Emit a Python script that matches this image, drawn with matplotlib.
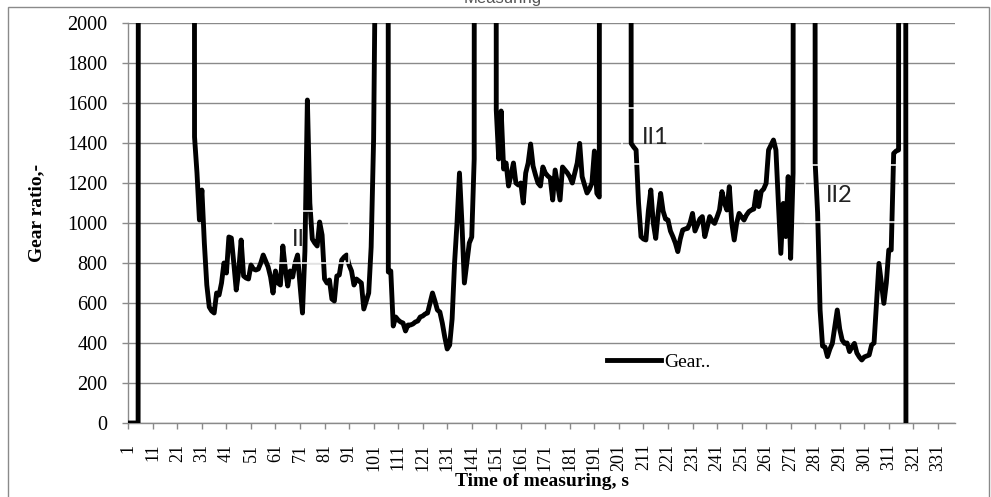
import numpy as np
import matplotlib.pyplot as plt
from matplotlib.patches import Rectangle

plt.rcParams['font.family'] = ['Liberation Serif', 'DejaVu Serif']

# gear ratio per second of measuring (values far above 2000 run off the chart)
gear_ratio = [
    0, 0, 0, 0, 0,
    30000, 30000, 30000, 30000, 30000, 30000, 30000, 30000, 30000, 30000, 30000,
    30000, 30000, 30000, 30000, 30000, 30000, 30000, 30000, 30000, 30000, 30000,
    1430, 1250, 1015, 1165, 900, 690, 580, 560, 550, 650, 640, 700, 800, 750,
    930, 925, 800, 665, 760, 915, 735, 725, 720,
    790, 770, 765, 770, 800, 840, 810, 780, 730, 650,
    760, 700, 690, 885, 770, 685, 760, 730, 800, 840,
    690, 550, 860, 1615, 1100, 920, 900, 885, 1005, 940,
    720, 700, 715, 620, 610, 735, 740, 815, 830, 840,
    790, 760, 690, 720, 710, 700, 570, 610, 650, 880,
    1420, 2700,
    30000, 30000, 30000, 30000,
    755, 760, 485, 530, 515, 505, 500, 460, 490, 490,
    495, 505, 510, 530, 535, 545, 550, 600, 650, 610,
    565, 555, 500, 430, 370, 390, 520, 800, 1000, 1250,
    1000, 700, 800, 900, 930, 1320,
    30000, 30000, 30000, 30000, 30000, 30000, 30000, 30000,
    1565, 1320, 1560, 1270, 1300, 1185, 1240, 1300, 1200, 1190,
    1200, 1100, 1250, 1300, 1395, 1285, 1240, 1200, 1185, 1280,
    1250, 1235, 1225, 1115, 1265, 1190, 1115, 1280, 1265, 1250,
    1230, 1200, 1250, 1300, 1398, 1232, 1190, 1150, 1170, 1200,
    1360, 1148, 1130,
    30000, 30000, 30000, 30000, 30000, 30000, 30000, 30000, 30000, 30000, 30000, 30000,
    1398, 1380, 1365, 1100, 932, 920, 915, 1060, 1165, 1000,
    923, 1050, 1148, 1060, 1020, 1015, 960, 932, 900, 857,
    920, 965, 970, 973, 1000, 1048, 960, 990, 1020, 1032,
    932, 980, 1032, 1010, 998, 1030, 1065, 1157, 1100, 1065,
    1182, 1000, 915, 1000, 1048, 1030, 1015, 1040, 1057, 1065,
    1070, 1157, 1082, 1157, 1170, 1198, 1365, 1390, 1415, 1365,
    1100, 848, 1098, 932, 1232, 823, 1250,
    30000, 30000, 30000, 30000, 30000, 30000, 30000, 30000,
    1300, 1050, 565, 385, 380, 332, 370, 398, 480, 565,
    470, 415, 398, 400, 357, 380, 398, 350, 330, 315,
    330, 335, 340, 390, 400, 598, 798, 700, 598, 700,
    865, 865, 1348, 1360, 1365,
    30000, 30000,
    0,
    np.nan, np.nan, np.nan, np.nan, np.nan, np.nan, np.nan, np.nan, np.nan, np.nan,
    np.nan, np.nan, np.nan, np.nan, np.nan, np.nan, np.nan, np.nan, np.nan, np.nan,
]
seconds = np.arange(1, len(gear_ratio) + 1)

x_ticks = list(range(1, 332, 10))
y_ticks = list(range(0, 2001, 200))

# phase labels (text, axes-fraction centre, white box [x0, y0, x1, y1])
phase_names = ['II', 'II1', 'II2']
phase_pos = [(0.2055, 0.4575), (0.638, 0.7125), (0.86, 0.57)]
phase_box = [(0.175, 0.40, 0.267, 0.53),
             (0.597, 0.6475, 0.695, 0.7875),
             (0.818, 0.5025, 0.933, 0.645)]

grey = '#8a8a8a'

fig = plt.figure(figsize=(9.91, 4.97), dpi=100)
ax = fig.add_axes([128.3 / 991, 1 - 423 / 497, (955 - 128.3) / 991, 400 / 497])

ax.plot(seconds, gear_ratio, color='black', lw=3.5, zorder=3, label='Gear..')

ax.set_xlim(1, len(gear_ratio))
ax.set_ylim(0, 2000)
ax.set_xticks(x_ticks)
ax.set_xticklabels([str(t) for t in x_ticks], rotation=90)
ax.set_yticks(y_ticks)
ax.tick_params(axis='x', length=4, width=1, color=grey, pad=11, labelsize=13)
ax.tick_params(axis='y', length=4, width=1, color=grey, pad=11, labelsize=14.5)

ax.grid(axis='y', color=grey, lw=1.0)
ax.set_axisbelow(True)
for side in ['top', 'right']:
    ax.spines[side].set_visible(False)
for side in ['left', 'bottom']:
    ax.spines[side].set_color(grey)
    ax.spines[side].set_linewidth(1.0)

for name, (tx, ty), (x0, y0, x1, y1) in zip(phase_names, phase_pos, phase_box):
    ax.text(tx, ty, name, transform=ax.transAxes, ha='center', va='center',
            fontsize=17, family='Lato', color='#222222', zorder=2 if name == 'II' else 5)
    ax.add_patch(Rectangle((x0, y0), x1 - x0, y1 - y0, transform=ax.transAxes,
                           fill=False, edgecolor='white', lw=1.1, zorder=4))

ax.legend(loc='center left', bbox_to_anchor=(607 / 991, 1 - 362 / 497),
          bbox_transform=fig.transFigure, frameon=False, fontsize=14,
          handlelength=2.8, handletextpad=0.15, borderpad=0, borderaxespad=0)

fig.text(37 / 991, 1 - 213 / 497, 'Gear ratio,-', rotation=90, ha='center', va='center',
         fontsize=14, fontweight='bold')
fig.text(542 / 991, 1 - 482 / 497, 'Time of measuring, s', ha='center', va='center',
         fontsize=14, fontweight='bold')
fig.text(503 / 991, 1 - 2.5 / 497, 'Measuring', ha='center', va='baseline',
         fontsize=12, family='Liberation Sans', color='#555555')

fig.patches.append(Rectangle((8 / 991, -0.05), 981 / 991, 1 - 7 / 497 + 0.05,
                             transform=fig.transFigure, fill=False,
                             edgecolor=grey, lw=1.0))

fig.savefig('out.png', dpi=100)
